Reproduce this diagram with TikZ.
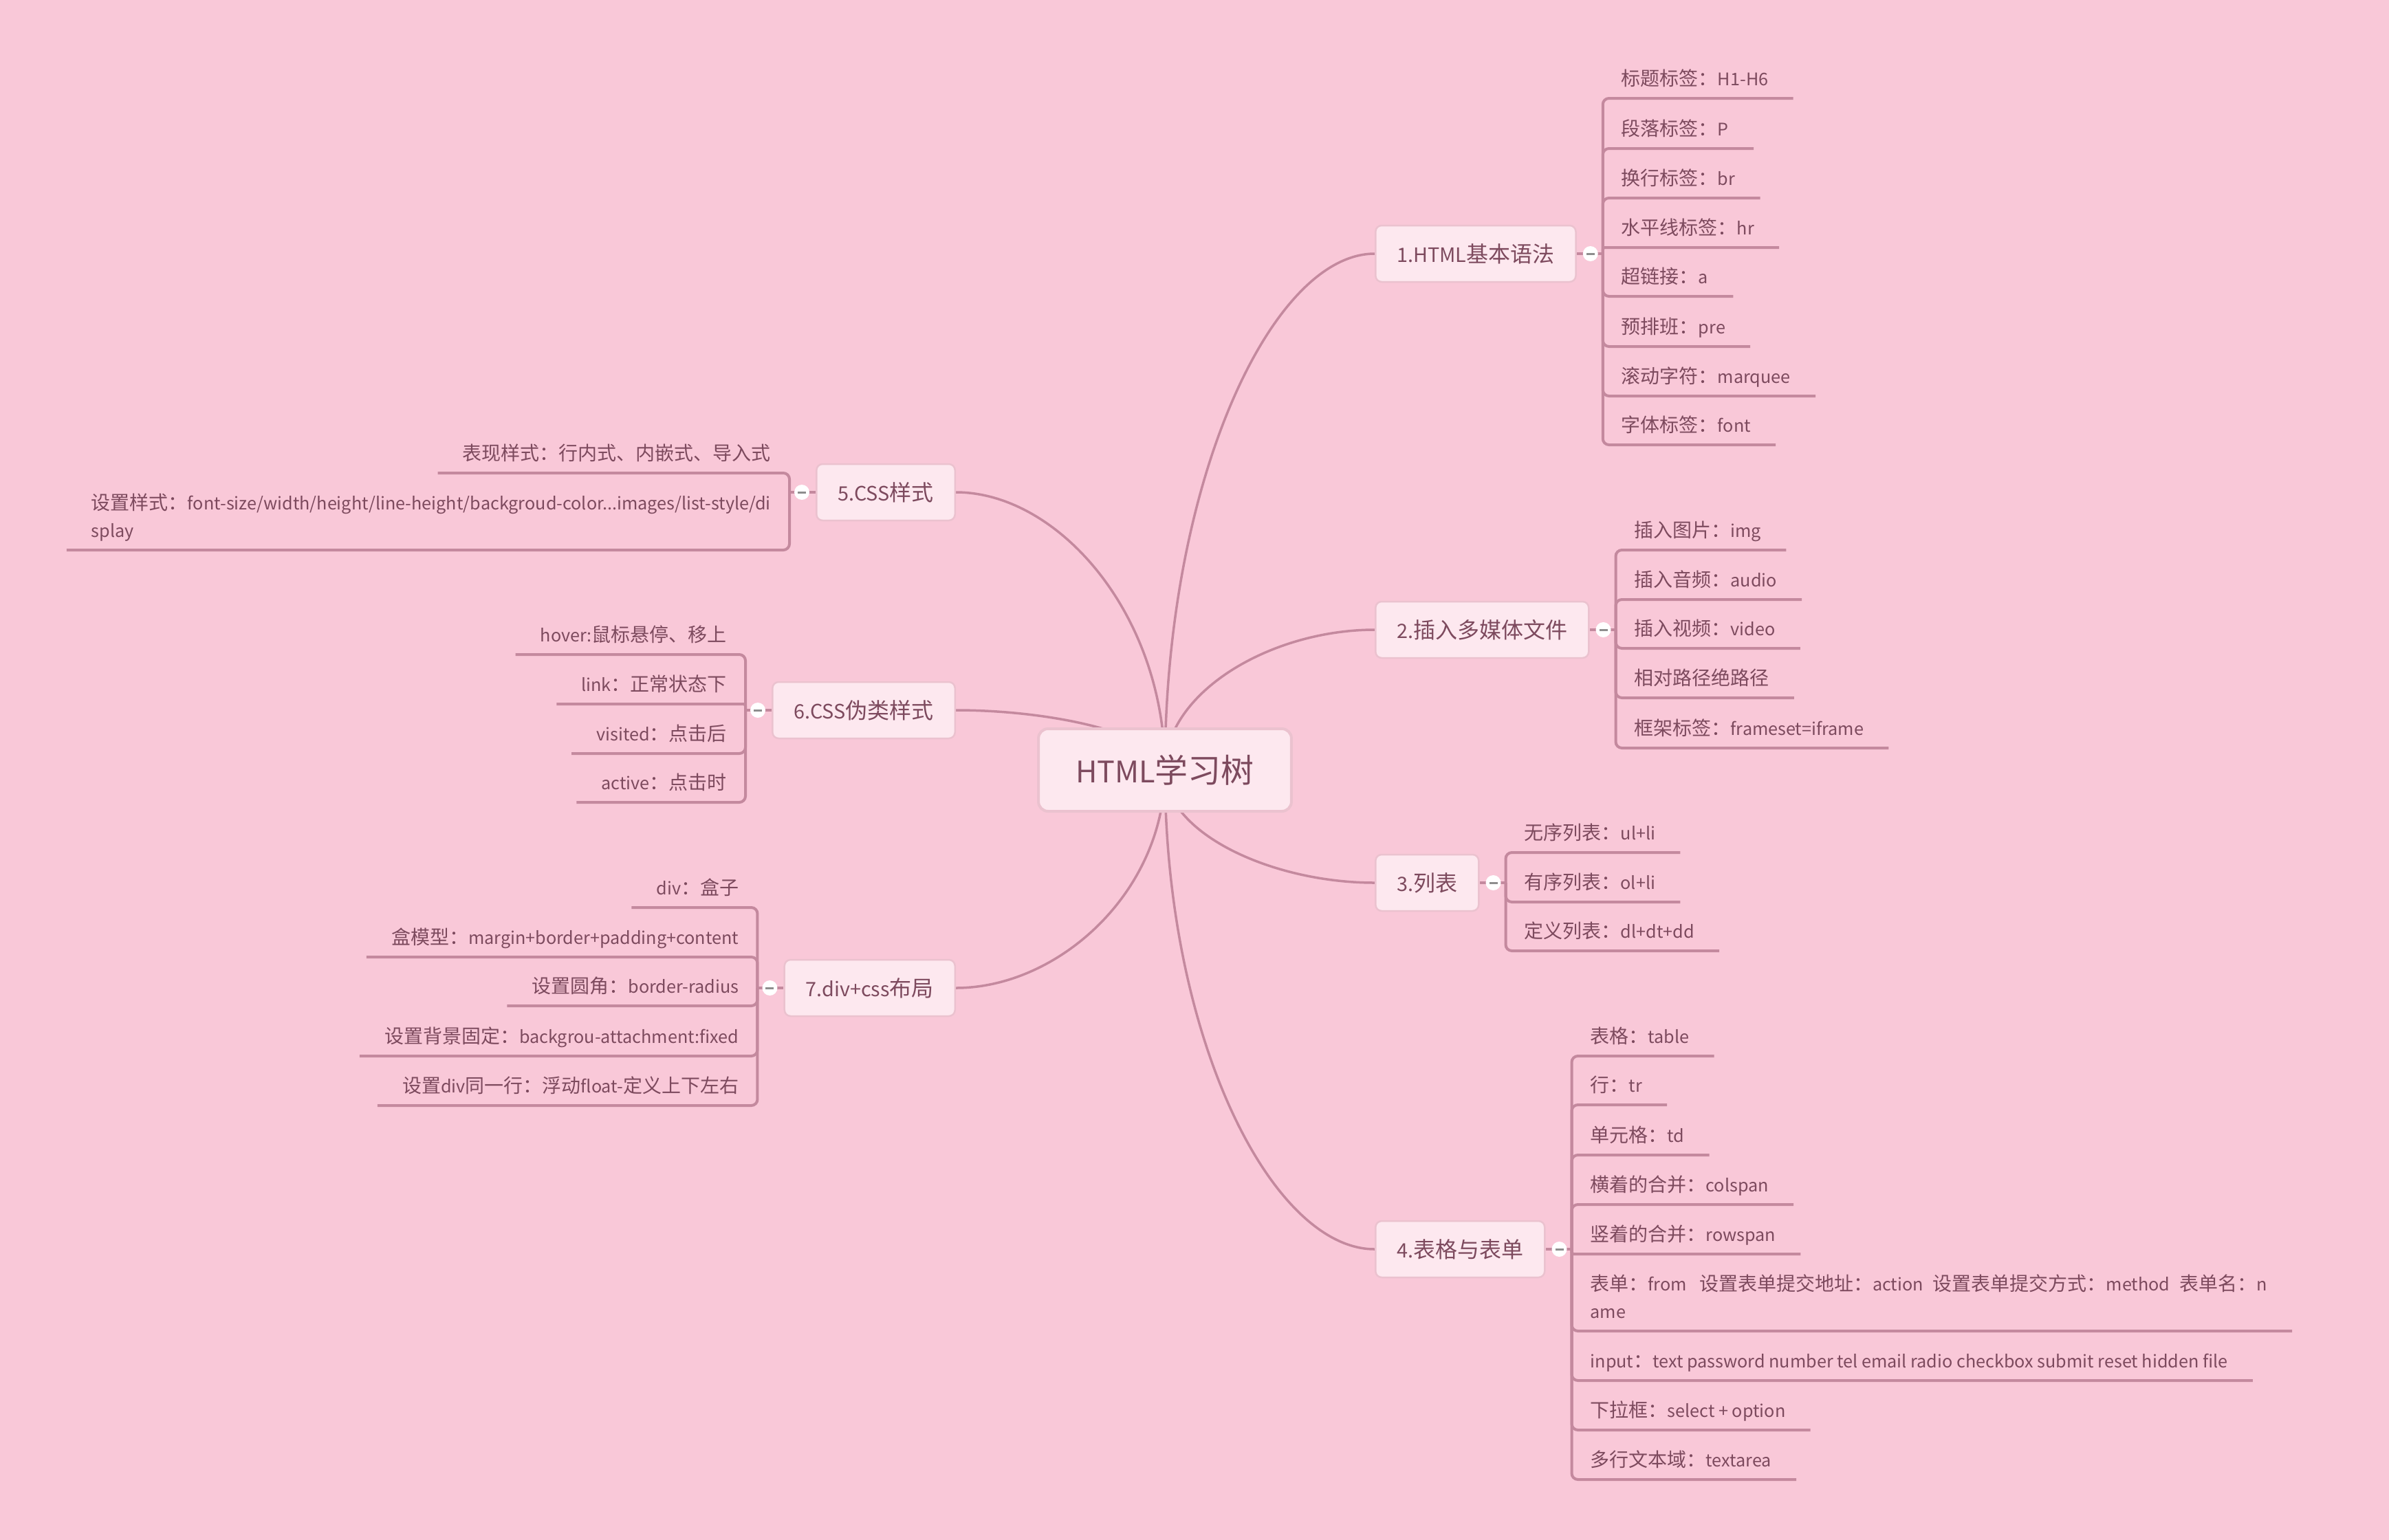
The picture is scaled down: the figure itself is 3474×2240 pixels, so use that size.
\documentclass[tikz,border=0pt]{standalone}
\usepackage{fontspec}
\setmainfont{Noto Sans CJK SC}[Scale=0.9]
\newfontfamily\cjkf{Noto Sans CJK SC}
\newfontfamily\latf{Noto Sans CJK SC}[Scale=0.9]
\XeTeXinterchartokenstate=1
\newXeTeXintercharclass\cjkcls
\newcount\mycnt
\def\setcjkrange#1#2{\mycnt=#1\relax
  \loop \XeTeXcharclass\mycnt=\cjkcls \ifnum\mycnt<#2\relax \advance\mycnt by 1 \repeat}
\setcjkrange{"3000}{"303F}
\setcjkrange{"4E00}{"9FFF}
\setcjkrange{"FF00}{"FFEF}
\XeTeXinterchartoks 0 \cjkcls = {\cjkf}
\XeTeXinterchartoks 4095 \cjkcls = {\cjkf}
\XeTeXinterchartoks \cjkcls 0 = {\latf}
\XeTeXinterchartoks 4095 0 = {\latf}
\usetikzlibrary{calc}
\definecolor{bgpink}{HTML}{F9C8D8}
\definecolor{lnc}{HTML}{C4899E}
\definecolor{nfill}{HTML}{FDE8EF}
\definecolor{nbord}{HTML}{EBC2CF}
\definecolor{txt}{HTML}{7D4A5E}
\definecolor{mgrey}{HTML}{8E8E8E}
\pgfdeclarelayer{back}
\pgfdeclarelayer{conn}
\pgfsetlayers{back,conn,main}
\tikzset{
  root/.style={draw=nbord, line width=4pt, fill=nfill, rounded corners=14pt, inner xsep=54pt, minimum height=120pt, text=txt, font=\fontsize{48pt}{58pt}\selectfont, text height=41pt, text depth=5pt},
  branch/.style={draw=nbord, line width=2.5pt, fill=nfill, rounded corners=9pt, inner xsep=31pt, minimum height=82pt, text=txt, font=\fontsize{32pt}{40pt}\selectfont, text height=27pt, text depth=3pt},
  leaf/.style={inner xsep=0pt, inner ysep=18pt, text depth=0pt, text=txt, font=\fontsize{28pt}{40pt}\selectfont, align=left},
  leafR/.style={leaf, anchor=south west, xshift=27pt},
  leafL/.style={leaf, anchor=south east, xshift=-27pt, align=right},
  curve/.style={draw=lnc, line width=3.5pt},
  ul/.style={draw=lnc, line width=4pt, rounded corners=9pt},
  ulshort/.style={draw=lnc, line width=4pt, rounded corners=3pt},
  stub/.style={draw=lnc, line width=4pt},
  tog/.style={circle, fill=white, minimum size=22pt, inner sep=0pt},
  minus/.style={draw=mgrey, line width=3pt},
}
\begin{document}
\begin{tikzpicture}[x=1pt,y=-1pt]
\useasboundingbox (0,0) rectangle (3474,2240);
\begin{pgfonlayer}{back}
\fill[bgpink] (0,0) rectangle (3474,2240);
\end{pgfonlayer}

% root and branches
\node[root] (c0) at (1694,1120) {HTML学习树};
\node[branch, anchor=west] (b1) at (1999,369) {1.HTML基本语法};
\node[branch, anchor=west] (b2) at (1999,916) {2.插入多媒体文件};
\node[branch, anchor=west] (b3) at (1999,1284) {3.列表};
\node[branch, anchor=west] (b4) at (1999,1817) {4.表格与表单};
\node[branch, anchor=east] (b5) at (1390,716) {5.CSS样式};
\node[branch, anchor=east] (b6) at (1390,1033) {6.CSS伪类样式};
\node[branch, anchor=east] (b7) at (1390,1437) {7.div+css布局};

\foreach \i in {1,2,3,4}{
  \coordinate (r\i) at ([xshift=38pt]b\i.east);
  \coordinate (t\i) at ([xshift=20pt]b\i.east);
}
\foreach \i in {5,6,7}{
  \coordinate (r\i) at ([xshift=-38pt]b\i.west);
  \coordinate (t\i) at ([xshift=-20pt]b\i.west);
}

% branch 1 leaves
\node[leafR] (l11) at (r1 |- 0,143) {标题标签：H1-H6};
\node[leafR] (l12) at (r1 |- 0,216) {段落标签：P};
\node[leafR] (l13) at (r1 |- 0,288) {换行标签：br};
\node[leafR] (l14) at (r1 |- 0,360) {水平线标签：hr};
\node[leafR] (l15) at (r1 |- 0,431) {超链接：a};
\node[leafR] (l16) at (r1 |- 0,504) {预排班：pre};
\node[leafR] (l17) at (r1 |- 0,576) {滚动字符：marquee};
\node[leafR] (l18) at (r1 |- 0,647) {字体标签：font};
% branch 2 leaves
\node[leafR] (l21) at (r2 |- 0,800) {插入图片：img};
\node[leafR] (l22) at (r2 |- 0,872) {插入音频：audio};
\node[leafR] (l23) at (r2 |- 0,943) {插入视频：video};
\node[leafR] (l24) at (r2 |- 0,1015) {相对路径绝路径};
\node[leafR] (l25) at (r2 |- 0,1088) {框架标签：frameset=iframe};
% branch 3 leaves
\node[leafR] (l31) at (r3 |- 0,1240) {无序列表：ul+li};
\node[leafR] (l32) at (r3 |- 0,1312) {有序列表：ol+li};
\node[leafR] (l33) at (r3 |- 0,1383) {定义列表：dl+dt+dd};
% branch 4 leaves
\node[leafR] (l41) at (r4 |- 0,1536) {表格：table};
\node[leafR] (l42) at (r4 |- 0,1607) {行：tr};
\node[leafR] (l43) at (r4 |- 0,1680) {单元格：td};
\node[leafR] (l44) at (r4 |- 0,1752) {横着的合并：colspan};
\node[leafR] (l45) at (r4 |- 0,1824) {竖着的合并：rowspan};
\node[leafR] (l46) at (r4 |- 0,1936) {表单：from\hspace{18pt}设置表单提交地址：action\hspace{14pt}设置表单提交方式：method\hspace{14pt}表单名：n\\ame};
\node[leafR] (l47) at (r4 |- 0,2008) {input：text password number tel email radio checkbox submit reset hidden file};
\node[leafR] (l48) at (r4 |- 0,2080) {下拉框：select + option};
\node[leafR] (l49) at (r4 |- 0,2152) {多行文本域：textarea};
% branch 5 leaves
\node[leafL] (l51) at (r5 |- 0,688) {表现样式：行内式、内嵌式、导入式};
\node[leafL, align=left] (l52) at (r5 |- 0,800) {设置样式：font-size/width/height/line-height/backgroud-color...images/list-style/di\\splay};
% branch 6 leaves
\node[leafL] (l61) at (r6 |- 0,952) {hover:鼠标悬停、移上};
\node[leafL] (l62) at (r6 |- 0,1024) {link：正常状态下};
\node[leafL] (l63) at (r6 |- 0,1096) {visited：点击后};
\node[leafL] (l64) at (r6 |- 0,1167) {active：点击时};
% branch 7 leaves
\node[leafL] (l71) at (r7 |- 0,1320) {div：盒子};
\node[leafL] (l72) at (r7 |- 0,1392) {盒模型：margin+border+padding+content};
\node[leafL] (l73) at (r7 |- 0,1463) {设置圆角：border-radius};
\node[leafL] (l74) at (r7 |- 0,1536) {设置背景固定：backgrou-attachment:fixed};
\node[leafL] (l75) at (r7 |- 0,1608) {设置div同一行：浮动float-定义上下左右};

\begin{pgfonlayer}{conn}
% curves from root
\foreach \b in {b1,b2,b3,b4}{
  \draw[curve] (c0.center) .. controls ($(c0.center)!0.56!(c0.center|-\b.west)$) and ($(\b.west)!0.49!(c0.center|-\b.west)$) .. (\b.west);
}
\foreach \b in {b5,b6,b7}{
  \draw[curve] (c0.center) .. controls ($(c0.center)!0.56!(c0.center|-\b.east)$) and ($(\b.east)!0.49!(c0.center|-\b.east)$) .. (\b.east);
}
% stubs
\foreach \i in {1,2,3,4}{ \draw[stub] (b\i.east) -- (r\i); }
\foreach \i in {5,6,7}{ \draw[stub] (b\i.west) -- (r\i); }
% right underlines
\foreach \l in {l11,l12,l13,l15,l16,l17,l18}{ \draw[ul] (r1) |- ([xshift=36pt]\l.south east); }
\draw[ulshort] (r1) |- ([xshift=36pt]l14.south east);
\foreach \l in {l21,l22,l23,l24,l25}{ \draw[ul] (r2) |- ([xshift=36pt]\l.south east); }
\foreach \l in {l31,l32,l33}{ \draw[ul] (r3) |- ([xshift=36pt]\l.south east); }
\foreach \l in {l41,l42,l43,l44,l46,l47,l48,l49}{ \draw[ul] (r4) |- ([xshift=36pt]\l.south east); }
\draw[ulshort] (r4) |- ([xshift=36pt]l45.south east);
% left underlines
\foreach \l in {l51,l52}{ \draw[ul] (r5) |- ([xshift=-36pt]\l.south west); }
\foreach \l in {l61,l63,l64}{ \draw[ul] (r6) |- ([xshift=-36pt]\l.south west); }
\draw[ulshort] (r6) |- ([xshift=-36pt]l62.south west);
\foreach \l in {l71,l72,l73,l74,l75}{ \draw[ul] (r7) |- ([xshift=-36pt]\l.south west); }
\end{pgfonlayer}

% toggles
\foreach \i in {1,...,7}{
  \node[tog] (m\i) at (t\i) {};
  \draw[minus] ([xshift=-6pt]m\i.center) -- ([xshift=6pt]m\i.center);
}
\end{tikzpicture}
\end{document}
